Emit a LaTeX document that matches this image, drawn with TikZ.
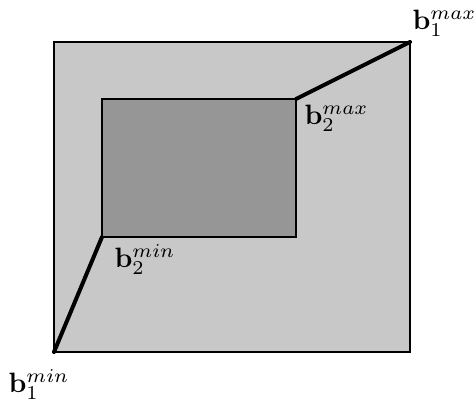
\documentclass[tikz,border=0pt]{standalone}
\begin{document}
\begin{tikzpicture}[x=1pt,y=-1pt,
  outerbox/.style={draw=black,fill={rgb,255:red,200;green,200;blue,200},line width=2pt},
  innerbox/.style={draw=black,fill={rgb,255:red,150;green,150;blue,150},line width=1.6pt},
  diag/.style={draw=black,line width=4pt,line cap=round},
  lbl/.style={anchor=base west,inner sep=0pt,scale=2.8}]
\useasboundingbox (0,0) rectangle (475,406);
\coordinate (o1) at (54,352);
\coordinate (o2) at (410,42);
\coordinate (i1) at (102,237);
\coordinate (i2) at (296,99);
\path[outerbox] (o1) rectangle (o2);
\path[diag] (o1) -- (i1);
\path[diag] (o2) -- (i2);
\path[innerbox] (i1) rectangle (i2);
\node[lbl] (b1max) at (412,30) {$\mathbf{b}_1^{max}$};
\node[lbl] (b2max) at (304,125) {$\mathbf{b}_2^{max}$};
\node[lbl] (b2min) at (114,268) {$\mathbf{b}_2^{min}$};
\node[lbl] (b1min) at (8,393) {$\mathbf{b}_1^{min}$};
\end{tikzpicture}
\end{document}
